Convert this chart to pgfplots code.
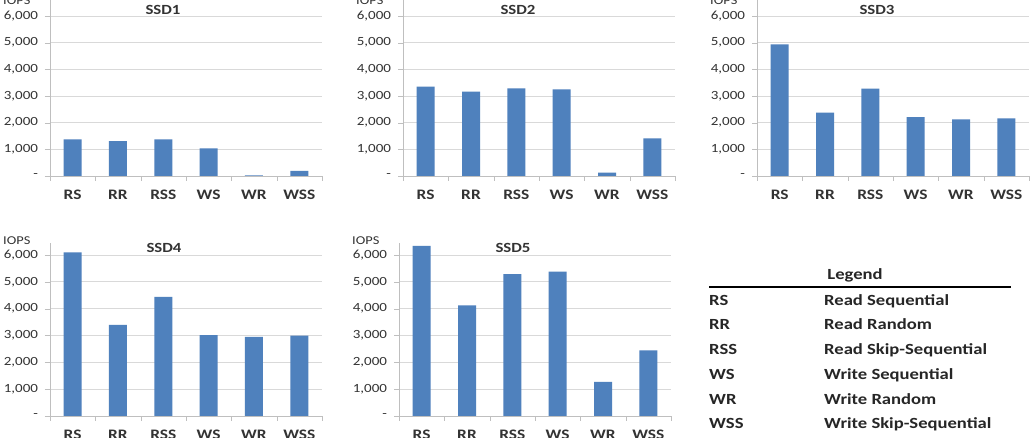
\documentclass[border=0pt]{standalone}
\usepackage{pgfplots}
\pgfplotsset{compat=1.18}
\usepackage{fontspec}
\setmainfont{Carlito}[FakeStretch=1.2]
\definecolor{barblue}{HTML}{4F81BD}
\definecolor{gridgray}{HTML}{D9D9D9}
\definecolor{axgray}{HTML}{BFBFBF}
\definecolor{txt}{HTML}{333333}
\pgfplotsset{
  ssd/.style={
    scale only axis, width=272pt,
    anchor=south west,
    axis lines=left, axis line style={draw=axgray,-},
    xmin=-0.5, xmax=5.5, ymin=0,
    xtick={-0.5,0.5,...,5.5}, xticklabels={,,,,,,},
    extra x ticks={0,1,2,3,4,5},
    extra x tick labels={RS,RR,RSS,WS,WR,WSS},
    extra x tick style={major tick length=0pt,
      tick label style={font=\fontsize{14.5}{15}\selectfont\bfseries, text=txt, anchor=base, yshift=-24pt}},
    ytick={0,1000,2000,3000,4000,5000,6000},
    yticklabels={-,{1,000},{2,000},{3,000},{4,000},{5,000},{6,000}},
    yticklabel style={font=\fontsize{12.5}{13}\selectfont, text=txt, anchor=east, xshift=-3.5pt},
    ymajorgrids, grid style={draw=gridgray, line width=0.8pt},
    major tick length=5pt, tick align=outside, tick style={draw=axgray},
    ybar, bar width=18pt,
  },
  toprow/.style={ssd, height=176pt, ymax=6600},
  botrow/.style={ssd, height=173pt, ymax=6448},
}
\begin{document}
\begin{tikzpicture}
\path[use as bounding box] (0,0) rectangle (1030pt,438pt);
\clip (0,0) rectangle (1030pt,438pt);
\fill[white] (0,0) rectangle (1030pt,438pt);

\begin{axis}[toprow, at={(50pt,262pt)}]
\addplot[fill=barblue, draw=none] coordinates {(0,1375) (1,1310) (2,1375) (3,1040) (4,25) (5,190)};
\end{axis}
\begin{axis}[toprow, at={(403pt,262pt)}]
\addplot[fill=barblue, draw=none] coordinates {(0,3350) (1,3160) (2,3290) (3,3250) (4,125) (5,1410)};
\end{axis}
\begin{axis}[toprow, at={(757pt,262pt)}]
\addplot[fill=barblue, draw=none] coordinates {(0,4940) (1,2375) (2,3275) (3,2210) (4,2125) (5,2160)};
\end{axis}
\begin{axis}[botrow, at={(50pt,22pt)}]
\addplot[fill=barblue, draw=none] coordinates {(0,6100) (1,3400) (2,4440) (3,3010) (4,2950) (5,3000)};
\end{axis}
\begin{axis}[botrow, at={(399pt,22pt)}]
\addplot[fill=barblue, draw=none] coordinates {(0,6340) (1,4120) (2,5290) (3,5380) (4,1270) (5,2450)};
\end{axis}

% titles
\begin{scope}[every node/.style={font=\fontsize{14}{15}\selectfont\bfseries, text=txt, anchor=base, inner sep=0pt}]
\node at (163pt,423.5pt) {SSD1};
\node at (518pt,423.5pt) {SSD2};
\node at (877pt,423.5pt) {SSD3};
\node at (164pt,185.5pt) {SSD4};
\node at (513pt,185.5pt) {SSD5};
\end{scope}
% IOPS labels
\begin{scope}[every node/.style={font=\fontsize{12}{13}\selectfont, text=txt, anchor=base west, inner sep=0pt}]
\node at (3pt,433.5pt) {IOPS};
\node at (356pt,433.5pt) {IOPS};
\node at (710pt,433.5pt) {IOPS};
\node at (3pt,193pt) {IOPS};
\node at (352pt,193pt) {IOPS};
\end{scope}
% legend table
\begin{scope}[every node/.style={font=\fontsize{15.5}{16}\selectfont\bfseries, text=black!85, anchor=base west, inner sep=0pt}]
\node[anchor=base] at (855pt,158.5pt) {Legend};
\draw[black, line width=1.6pt] (709pt,151pt) -- (1011pt,151pt);
\node at (709pt,132pt) {RS};  \node at (824pt,132pt) {Read Sequential};
\node at (709pt,108pt) {RR};  \node at (824pt,108pt) {Read Random};
\node at (709pt,83pt) {RSS};  \node at (824pt,83pt) {Read Skip-Sequential};
\node at (709pt,58pt) {WS};   \node at (824pt,58pt) {Write Sequential};
\node at (709pt,33pt) {WR};   \node at (824pt,33pt) {Write Random};
\node at (709pt,9pt) {WSS};   \node at (824pt,9pt) {Write Skip-Sequential};
\end{scope}
\end{tikzpicture}
\end{document}
